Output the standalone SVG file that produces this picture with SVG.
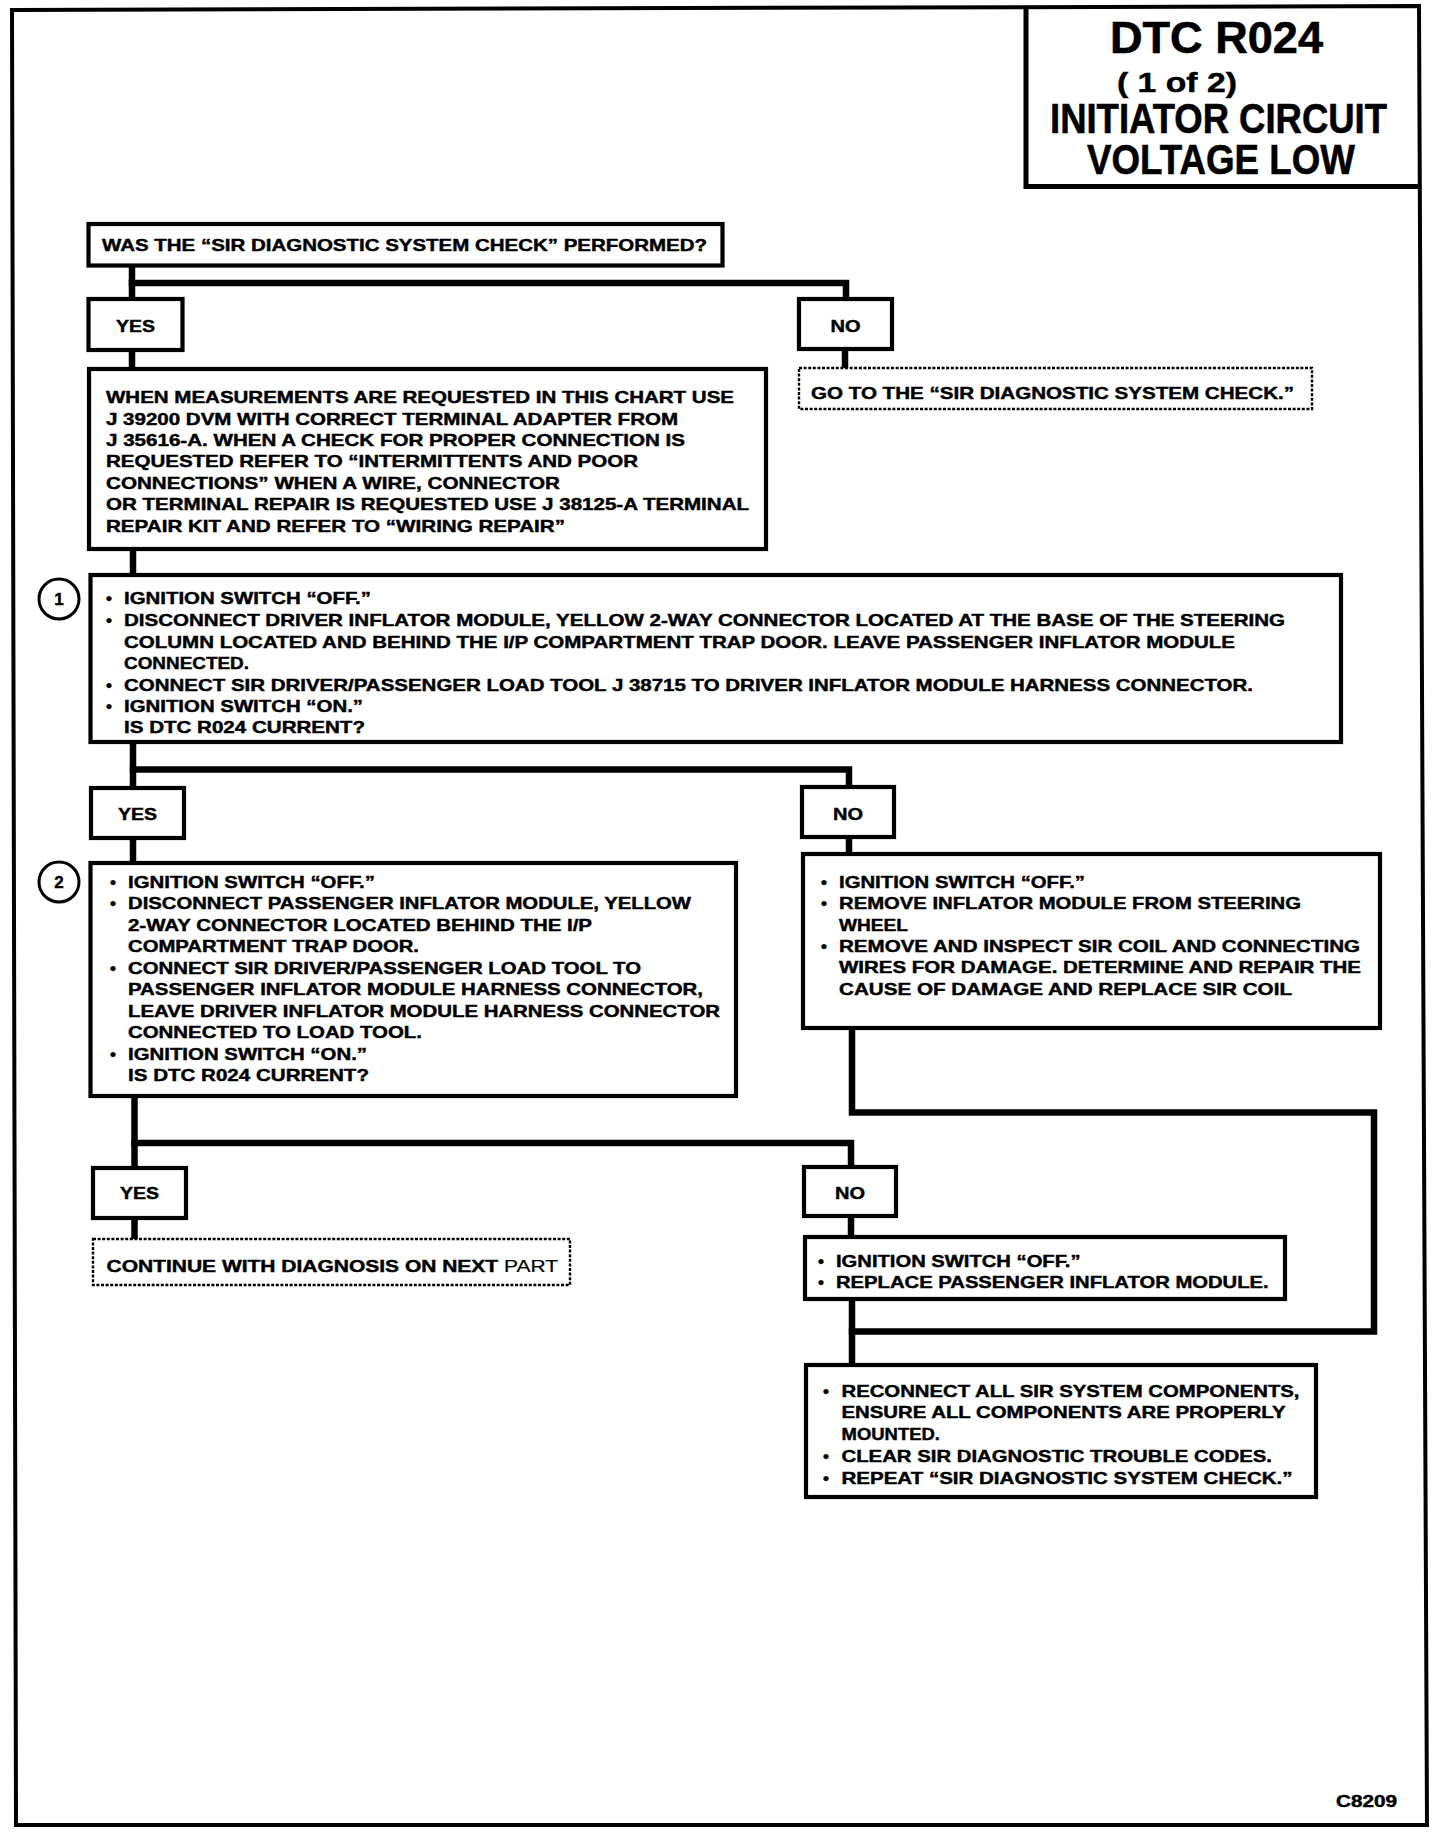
<svg xmlns="http://www.w3.org/2000/svg" width="1440" height="1834" viewBox="0 0 1440 1834">
<style>
  .bg { fill: #ffffff; }
  .frame { fill: none; stroke: #000; stroke-width: 4; stroke-linejoin: miter; }
  .box { fill: #fff; stroke: #000; stroke-width: 4.2; }
  .dbox { fill: #fff; stroke: #000; stroke-width: 2.4; stroke-dasharray: 3 1.6; }
  .conn { fill: none; stroke: #000; stroke-width: 6.5; stroke-linejoin: miter; stroke-linecap: square; }
  .circ { fill: #fff; stroke: #000; stroke-width: 3; }
  text { font-family: "Liberation Sans", Arial, sans-serif; font-weight: bold; fill: #000; stroke: #000; stroke-width: 0.45; }
  .t { font-size: 17px; }
  .c { font-size: 17px; text-anchor: middle; }
  .title { text-anchor: middle; stroke-width: 0.6; }
</style>
<rect class="bg" x="0" y="0" width="1440" height="1834"/>

<!-- outer frame -->
<g id="frame">
  <polygon class="frame" points="12,10 1419,6 1427,1825 16,1825"/>
</g>

<!-- title block -->
<g id="title">
  <polyline class="frame" points="1026,8 1026,186.5 1420,186.5" style="stroke-width:5"/>
  <text class="title" x="1216.5" y="53" font-size="45" textLength="213" lengthAdjust="spacingAndGlyphs">DTC R024</text>
  <text x="1117" y="91.5" font-size="28" textLength="120" lengthAdjust="spacingAndGlyphs">( 1 of 2)</text>
  <text class="title" x="1218.5" y="132.7" font-size="42.5" textLength="337" lengthAdjust="spacingAndGlyphs">INITIATOR CIRCUIT</text>
  <text class="title" x="1221" y="174" font-size="42.5" textLength="268" lengthAdjust="spacingAndGlyphs">VOLTAGE LOW</text>
</g>

<!-- connectors -->
<g id="connectors">
  <path class="conn" d="M132,266 V299"/>
  <path class="conn" d="M132,283 H846 V299"/>
  <path class="conn" d="M132,350 V369"/>
  <path class="conn" d="M845,349 V368"/>
  <path class="conn" d="M133,549 V575"/>
  <path class="conn" d="M133,742 V788"/>
  <path class="conn" d="M133,769.5 H849 V787"/>
  <path class="conn" d="M133,838 V863"/>
  <path class="conn" d="M849,837 V854"/>
  <path class="conn" d="M134.5,1096 V1168"/>
  <path class="conn" d="M134.5,1143 H851 V1167"/>
  <path class="conn" d="M134.5,1218 V1239"/>
  <path class="conn" d="M851,1216 V1237"/>
  <path class="conn" d="M852,1028 V1112.5 H1374 V1331.5 H852"/>
  <path class="conn" d="M852,1299 V1365"/>
</g>

<!-- question 0 -->
<g id="q0">
  <rect class="box" x="88.5" y="224" width="634" height="41.5"/>
  <text class="t" x="102" y="251.4" textLength="605" lengthAdjust="spacingAndGlyphs">WAS THE “SIR DIAGNOSTIC SYSTEM CHECK” PERFORMED?</text>
</g>

<g id="yes1">
  <rect class="box" x="88.5" y="299" width="94" height="51"/>
  <text class="c" x="135.5" y="332" textLength="39" lengthAdjust="spacingAndGlyphs">YES</text>
</g>
<g id="no1">
  <rect class="box" x="799" y="299" width="93" height="50"/>
  <text class="c" x="845.5" y="332" textLength="30" lengthAdjust="spacingAndGlyphs">NO</text>
</g>

<g id="goto">
  <rect class="dbox" x="799" y="368" width="513" height="41"/>
  <text class="t" x="811" y="398.5" textLength="483" lengthAdjust="spacingAndGlyphs">GO TO THE “SIR DIAGNOSTIC SYSTEM CHECK.”</text>
</g>

<g id="when">
  <rect class="box" x="89" y="369" width="677" height="180"/>
  <text class="t" x="106" y="403" textLength="628" lengthAdjust="spacingAndGlyphs">WHEN MEASUREMENTS ARE REQUESTED IN THIS CHART USE</text>
  <text class="t" x="106" y="424.5" textLength="572" lengthAdjust="spacingAndGlyphs">J 39200 DVM WITH CORRECT TERMINAL ADAPTER FROM</text>
  <text class="t" x="106" y="446" textLength="579" lengthAdjust="spacingAndGlyphs">J 35616-A. WHEN A CHECK FOR PROPER CONNECTION IS</text>
  <text class="t" x="106" y="467" textLength="532" lengthAdjust="spacingAndGlyphs">REQUESTED REFER TO “INTERMITTENTS AND POOR</text>
  <text class="t" x="106" y="488.5" textLength="454" lengthAdjust="spacingAndGlyphs">CONNECTIONS”  WHEN A WIRE, CONNECTOR</text>
  <text class="t" x="106" y="510" textLength="643" lengthAdjust="spacingAndGlyphs">OR TERMINAL REPAIR IS REQUESTED USE J 38125-A TERMINAL</text>
  <text class="t" x="106" y="531.5" textLength="459" lengthAdjust="spacingAndGlyphs">REPAIR KIT AND REFER TO “WIRING REPAIR”</text>
</g>

<g id="step1">
  <circle class="circ" cx="59" cy="599" r="20"/>
  <text class="c" x="59" y="605">1</text>
  <rect class="box" x="90.5" y="575" width="1250.5" height="167"/>
  <text class="t" x="106" y="604">•</text>
  <text class="t" x="124" y="604" textLength="247" lengthAdjust="spacingAndGlyphs">IGNITION SWITCH “OFF.”</text>
  <text class="t" x="106" y="626">•</text>
  <text class="t" x="124" y="626" textLength="1161" lengthAdjust="spacingAndGlyphs">DISCONNECT DRIVER INFLATOR MODULE, YELLOW 2-WAY CONNECTOR LOCATED AT THE BASE OF THE STEERING</text>
  <text class="t" x="124" y="647.5" textLength="1111" lengthAdjust="spacingAndGlyphs">COLUMN LOCATED AND BEHIND THE I/P COMPARTMENT TRAP DOOR. LEAVE PASSENGER INFLATOR MODULE</text>
  <text class="t" x="124" y="669" textLength="125" lengthAdjust="spacingAndGlyphs">CONNECTED.</text>
  <text class="t" x="106" y="690.5">•</text>
  <text class="t" x="124" y="690.5" textLength="1129" lengthAdjust="spacingAndGlyphs">CONNECT SIR DRIVER/PASSENGER LOAD TOOL J 38715 TO DRIVER INFLATOR MODULE HARNESS CONNECTOR.</text>
  <text class="t" x="106" y="711.5">•</text>
  <text class="t" x="124" y="711.5" textLength="239" lengthAdjust="spacingAndGlyphs">IGNITION SWITCH “ON.”</text>
  <text class="t" x="124" y="733" textLength="241" lengthAdjust="spacingAndGlyphs">IS DTC R024 CURRENT?</text>
</g>

<g id="yes2">
  <rect class="box" x="91" y="788" width="93" height="50"/>
  <text class="c" x="137.5" y="820" textLength="39" lengthAdjust="spacingAndGlyphs">YES</text>
</g>
<g id="no2">
  <rect class="box" x="802" y="787" width="92" height="50"/>
  <text class="c" x="848" y="820" textLength="30" lengthAdjust="spacingAndGlyphs">NO</text>
</g>

<g id="step2">
  <circle class="circ" cx="59" cy="882" r="20"/>
  <text class="c" x="59" y="888">2</text>
  <rect class="box" x="90.5" y="863" width="645.5" height="233"/>
  <text class="t" x="110" y="887.5">•</text>
  <text class="t" x="128" y="887.5" textLength="247" lengthAdjust="spacingAndGlyphs">IGNITION SWITCH “OFF.”</text>
  <text class="t" x="110" y="909">•</text>
  <text class="t" x="128" y="909" textLength="563" lengthAdjust="spacingAndGlyphs">DISCONNECT PASSENGER INFLATOR MODULE, YELLOW</text>
  <text class="t" x="128" y="930.5" textLength="464" lengthAdjust="spacingAndGlyphs">2-WAY CONNECTOR LOCATED BEHIND THE I/P</text>
  <text class="t" x="128" y="952" textLength="291" lengthAdjust="spacingAndGlyphs">COMPARTMENT TRAP DOOR.</text>
  <text class="t" x="110" y="973.5">•</text>
  <text class="t" x="128" y="973.5" textLength="513" lengthAdjust="spacingAndGlyphs">CONNECT SIR DRIVER/PASSENGER LOAD TOOL TO</text>
  <text class="t" x="128" y="995" textLength="575" lengthAdjust="spacingAndGlyphs">PASSENGER INFLATOR MODULE HARNESS CONNECTOR,</text>
  <text class="t" x="128" y="1016.5" textLength="592" lengthAdjust="spacingAndGlyphs">LEAVE DRIVER INFLATOR MODULE HARNESS CONNECTOR</text>
  <text class="t" x="128" y="1038" textLength="294" lengthAdjust="spacingAndGlyphs">CONNECTED TO LOAD TOOL.</text>
  <text class="t" x="110" y="1059.5">•</text>
  <text class="t" x="128" y="1059.5" textLength="239" lengthAdjust="spacingAndGlyphs">IGNITION SWITCH “ON.”</text>
  <text class="t" x="128" y="1081" textLength="241" lengthAdjust="spacingAndGlyphs">IS DTC R024 CURRENT?</text>
</g>

<g id="coil">
  <rect class="box" x="803" y="854" width="577" height="174"/>
  <text class="t" x="821" y="887.5">•</text>
  <text class="t" x="839" y="887.5" textLength="246" lengthAdjust="spacingAndGlyphs">IGNITION SWITCH “OFF.”</text>
  <text class="t" x="821" y="909">•</text>
  <text class="t" x="839" y="909" textLength="462" lengthAdjust="spacingAndGlyphs">REMOVE INFLATOR MODULE FROM STEERING</text>
  <text class="t" x="839" y="930.5" textLength="69" lengthAdjust="spacingAndGlyphs">WHEEL</text>
  <text class="t" x="821" y="952">•</text>
  <text class="t" x="839" y="952" textLength="521" lengthAdjust="spacingAndGlyphs">REMOVE AND INSPECT SIR COIL AND CONNECTING</text>
  <text class="t" x="839" y="973" textLength="522" lengthAdjust="spacingAndGlyphs">WIRES FOR DAMAGE. DETERMINE AND REPAIR THE</text>
  <text class="t" x="839" y="994.5" textLength="453" lengthAdjust="spacingAndGlyphs">CAUSE OF DAMAGE AND REPLACE SIR COIL</text>
</g>

<g id="yes3">
  <rect class="box" x="93" y="1168" width="93" height="50"/>
  <text class="c" x="139.5" y="1199" textLength="39" lengthAdjust="spacingAndGlyphs">YES</text>
</g>
<g id="no3">
  <rect class="box" x="804" y="1167" width="92" height="49"/>
  <text class="c" x="850" y="1199" textLength="30" lengthAdjust="spacingAndGlyphs">NO</text>
</g>

<g id="continue">
  <rect class="dbox" x="93" y="1239" width="477" height="46"/>
  <text class="t" x="106.5" y="1272" textLength="451.5" lengthAdjust="spacingAndGlyphs">CONTINUE WITH DIAGNOSIS ON NEXT <tspan font-weight="normal" stroke-width="0.2">PART</tspan></text>
</g>

<g id="replace">
  <rect class="box" x="805" y="1237" width="480" height="62"/>
  <text class="t" x="818" y="1267">•</text>
  <text class="t" x="836" y="1267" textLength="244.5" lengthAdjust="spacingAndGlyphs">IGNITION SWITCH “OFF.”</text>
  <text class="t" x="818" y="1287.5">•</text>
  <text class="t" x="836" y="1287.5" textLength="432.7" lengthAdjust="spacingAndGlyphs">REPLACE PASSENGER INFLATOR MODULE.</text>
</g>

<g id="reconnect">
  <rect class="box" x="806" y="1365" width="510" height="132"/>
  <text class="t" x="823" y="1396.5">•</text>
  <text class="t" x="841.5" y="1396.5" textLength="458" lengthAdjust="spacingAndGlyphs">RECONNECT ALL SIR SYSTEM COMPONENTS,</text>
  <text class="t" x="841.5" y="1418.3" textLength="444" lengthAdjust="spacingAndGlyphs">ENSURE ALL COMPONENTS ARE PROPERLY</text>
  <text class="t" x="841.5" y="1440.1" textLength="98.5" lengthAdjust="spacingAndGlyphs">MOUNTED.</text>
  <text class="t" x="823" y="1461.9">•</text>
  <text class="t" x="841.5" y="1461.9" textLength="430.5" lengthAdjust="spacingAndGlyphs">CLEAR SIR DIAGNOSTIC TROUBLE CODES.</text>
  <text class="t" x="823" y="1483.7">•</text>
  <text class="t" x="841.5" y="1483.7" textLength="451" lengthAdjust="spacingAndGlyphs">REPEAT “SIR DIAGNOSTIC SYSTEM CHECK.”</text>
</g>

<g id="code">
  <text x="1336" y="1807" font-size="15.6" textLength="61" lengthAdjust="spacingAndGlyphs">C8209</text>
</g>
</svg>
